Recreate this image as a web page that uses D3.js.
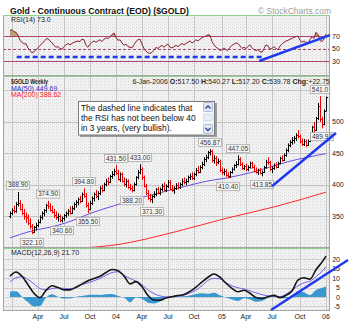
<!DOCTYPE html>
<html>
<head>
<meta charset="utf-8">
<script src="https://cdn.jsdelivr.net/npm/d3@7"></script>
<style>
  html, body { margin: 0; padding: 0; background: #fff; }
  svg { display: block; font-family: "Liberation Sans", Arial, sans-serif; }
</style>
</head>
<body>
<svg id="chart" width="352" height="327"></svg>
<script>
// ---- Weekly $GOLD bars, Dec 27 2002 .. Jan 6 2006 (one entry per Friday) ----
const firstWeek = new Date(2002, 11, 27);
const lastWeek = new Date(2006, 0, 6);

const opens = [
  350,356,360,358,370,372,362,356,350,349,
  339,335,326,333,337,342,349,355,360,368,
  366,361,357,352,349,351,344,347,352,355,
  359,356,364,370,373,377,375,386,383,368,
  362,372,379,385,383,388,396,392,402,407,
  405,414,418,422,419,410,417,407,401,406,
  397,395,392,402,412,421,425,412,398,388,
  380,378,382,385,393,388,394,398,392,399,
  405,394,392,396,400,397,402,407,404,407,
  412,415,411,418,424,421,429,434,441,445,
  452,454,440,443,436,438,424,420,423,416,
  414,421,426,431,434,442,433,427,430,425,
  428,435,428,423,421,424,419,421,428,437,
  436,425,427,431,429,435,443,440,448,456,
  463,468,472,475,480,478,470,465,470,464,
  470,480,492,488,506,526,504,497,517.5
];
const highs = [
  358,363,367,373,388.9,376,370,362,356,353,
  347,338,335,340,345,352,358,362,370,374.9,
  371,367,362,358,355,353,350,354,358,362,
  366,367,372,376,380,383,388,394.8,387,372,
  375,382,388,392,390,398,400,404,410,412,
  416,422,426,431.5,424,420,420,412,410,409,
  402,399,404,414,424,433,428,415,402,392,
  386,384,390,395,397,396,402,404,401,408,
  408,400,398,403,404,404,410,412,410,415,
  418,420,420,427,430,431,437,444,448,454,
  456.87,456,447,446,442,440,428,426,425,420,
  422,428,433,438,447.05,444,436,432,434,431,
  437,437,432,428,426,427,423,430,440,444,
  438,430,434,436,437,445,447,450,458,466,
  471,476,478,482,487,480,474,473,472,472,
  482,494,500,508,530,541,508,520,540.27
];
const lows = [
  347,352,355,356,366,360,352,345,340,336,
  330,322.1,324,328,333,339,345,350,356,362,
  358,355,348,345,342,341,340.6,343,348,351,
  353,354,360,364,368,371,373,380,364,355.5,
  360,368,374,379,376,384,388,390,398,400,
  403,410,414,416,407,405,404,398,396,394,
  391,388.2,390,399,409,417,408,396,384,376,
  373,371.3,379,382,385,384,390,390,389,395,
  392,389,386,392,393,394,398,401,400,404,
  408,408,408,414,418,419,425,430,436,441,
  447,436,434,430,433,420,416,415,413,410.4,
  411,418,423,427,431,430,424,424,422,422,
  426,426,420,418,416,417,413.85,419,426,432,
  422,419,424,426,427,433,437,438,445,452,
  460,464,466,470,474,466,462,462,460,462,
  468,478,484,486,503,500,489.92,495,517.2
];
const closes = [
  356,360,358,370,372,362,356,350,349,339,
  335,326,333,337,342,349,355,360,368,366,
  361,357,352,349,351,344,347,352,355,359,
  356,364,370,373,377,375,386,383,368,362,
  372,379,385,383,388,396,392,402,407,405,
  414,418,422,419,410,417,407,401,406,397,
  395,392,402,412,421,425,412,398,388,380,
  378,382,385,393,388,394,398,392,399,405,
  394,392,396,400,397,402,407,404,407,412,
  415,411,418,424,421,429,434,441,445,452,
  454,440,443,436,438,424,420,423,416,414,
  421,426,431,434,442,433,427,430,425,428,
  435,428,423,421,424,419,421,428,437,436,
  425,427,431,429,435,443,440,448,456,463,
  468,472,475,480,478,470,465,470,464,470,
  480,492,488,506,526,504,497,517.03,539.78
];

// RSI(14), one value per week
const rsi = [
  79,80,77,76,71,63,60,57,58,51,
  47,43,45,48,51,55,58,61,65,66,
  62,59,55,52,53,50,49,53,56,58,
  56,58,60,61,62,61,65,64,55,52,
  57,60,62,60,62,64,61,65,67,66,
  69,72,75,68,63,64,59,55,57,53,
  52,51,56,61,64,65,57,50,46,43,
  42,44,47,52,50,53,55,52,55,57,
  52,51,53,55,53,56,58,56,58,60,
  62,59,61,64,62,65,67,69,70,72,
  71,61,56,52,50,47,48,51,48,47,
  52,55,57,59,58,54,50,52,50,53,
  56,51,48,47,48,45,44,50,56,54,
  49,50,53,50,48,54,57,60,62,63,
  65,66,68,69,70,63,60,62,60,59,
  64,69,66,76,72,63,61,66,73.0
];

// Moving averages, sampled at these week numbers
const ma50Weeks  = [0, 12, 20, 28, 42, 55, 62, 67, 79, 84, 100, 108, 122, 139, 158];
const ma50Values = [316, 328, 333, 340, 357, 370, 377, 381, 391, 395, 407, 411, 421, 437, 449.69];
const ma200Weeks  = [0, 20, 34, 55, 83, 108, 133, 158];
const ma200Values = [288, 294, 299, 306, 326, 347, 366, 388.62];

// MACD(12,26,9) line and signal, sampled every third week plus the last week
const macdWeeks = d3.range(0, 157, 3).concat([158]);
const macdValues = [
  11, 13.3, 11, 6.5, 2, -0.3, 3.5, 6, 5, 3.8, 3.8, 5.2, 7, 8.6, 9.8, 11, 13, 14.6,
  14, 11.2, 7, 8.2, 5.5, 0.8, -1.6, -1.7, -0.5, 0.2, 0.8, 1.4, 3, 5.3, 8, 10.5, 12.2, 10.5,
  7.3, 4.6, 2.8, 3.6, 2, -0.3, -0.8, 0.2, 0.9, -0.3, 0.9, 3.2, 9, 10.2, 9.5, 14.5, 18.5, 21.7
];
const signalValues = [
  8.1, 10.2, 10.8, 9.3, 7, 4.5, 3.8, 4.5, 4.8, 4.6, 4.5, 5, 6.5, 7.5, 8.6, 9.9, 11.5, 13,
  13.4, 11.5, 9.8, 8.4, 6.4, 3.8, 1.8, 0.6, 0.1, 0.2, 0.5, 1, 2.2, 3.7, 6, 8.8, 9.9, 9.6,
  7.6, 5.9, 4.9, 4.3, 3.3, 2.2, 1.3, 0.6, 0.3, 0.2, 1.5, 3.6, 5.9, 7.6, 8.4, 10.8, 13.6, 16.1
];

// Swing highs / lows that get a value tag: [week, side, decimals]
const swings = [
  [4, "high", 2], [11, "low", 2], [19, "high", 2], [26, "low", 2], [37, "high", 2],
  [39, "low", 2], [53, "high", 2], [61, "low", 2], [65, "high", 2], [71, "low", 2],
  [100, "high", 2], [109, "low", 2], [114, "high", 2], [126, "low", 2],
  [155, "high", 1], [156, "low", 2]
];

// Hand-drawn blue study lines: [week, value] end points
const rsiFloorLine   = [[3.35, 36.4], [126.5, 36.4]];
const rsiTrendLine   = [[124.6, 30], [160, 71.5]];
const priceTrendLine = [[131, 398], [163, 482.5]];
const macdTrendLine  = [[130.5, -6.9], [169, 19.7]];

const priceTicks = [350, 400, 450, 500];
const priceGrid = [350, 400, 450, 500, 550];
const rsiTicks = [30, 50, 70];
const macdTicks = [-5, 0, 5, 10, 15, 20];

const noteLines = [
  "The dashed line indicates that",
  "the RSI has not been below 40",
  "in 3 years, (very bullish)."
];

// ---------------------------------------------------------------------------
const weeks = d3.timeFriday.range(firstWeek, d3.timeDay.offset(lastWeek, 1));
const last = weeks.length - 1;
const atWeek = k => new Date(+firstWeek + k * 7 * 864e5);

const L = 3, R = 330;
const P = {
  rsi:   { top: 15,  bottom: 76 },
  price: { top: 76,  bottom: 248 },
  macd:  { top: 248, bottom: 311 }
};

const x  = d3.scaleTime().domain([firstWeek, lastWeek]).range([10, 326]);
const yR = d3.scaleLinear().domain([6, 103.6]).range([P.rsi.bottom, P.rsi.top]);
const yP = d3.scaleLinear().domain([300, 573]).range([P.price.bottom, P.price.top]);
const yM = d3.scaleLinear().domain([-7.4, 26]).range([P.macd.bottom, P.macd.top]);

const svg = d3.select("#chart");
const defs = svg.append("defs");

// light textured panel fill
const pat = defs.append("pattern").attr("id", "tex")
  .attr("width", 4).attr("height", 3).attr("patternUnits", "userSpaceOnUse");
pat.append("rect").attr("width", 4).attr("height", 3).attr("fill", "#f2f2f2");
pat.append("rect").attr("x", 0).attr("y", 0).attr("width", 1).attr("height", 1).attr("fill", "#d6d6d6");
pat.append("rect").attr("x", 2).attr("y", 1).attr("width", 1).attr("height", 1).attr("fill", "#dcdcdc");

Object.entries(P).forEach(([k, p]) => {
  defs.append("clipPath").attr("id", "clip-" + k)
    .append("rect").attr("x", L).attr("y", p.top).attr("width", R - L).attr("height", p.bottom - p.top);
});

// quarter ticks at the first weekly bar of Jan / Apr / Jul / Oct
const quarterTicks = d3.timeMonth.every(3).range(new Date(2003, 0, 1), new Date(2006, 1, 1))
  .map(m => d3.timeFriday.ceil(m))
  .filter(d => d >= firstWeek && d <= lastWeek);
const tickLabel = d => d.getMonth() === 0 ? d3.timeFormat("%y")(d) : d3.timeFormat("%b")(d);

// panel backgrounds + grid
Object.entries(P).forEach(([k, p]) => {
  svg.append("rect").attr("x", L).attr("y", p.top).attr("width", R - L)
    .attr("height", p.bottom - p.top).attr("fill", "url(#tex)");
  svg.append("g").selectAll("line").data(quarterTicks).join("line")
    .attr("x1", d => Math.round(x(d)) + 0.5).attr("x2", d => Math.round(x(d)) + 0.5)
    .attr("y1", p.top).attr("y2", p.bottom)
    .attr("stroke", "#c4c4c4").attr("stroke-width", 1);
});
svg.append("g").selectAll("line").data(priceGrid).join("line")
  .attr("x1", L).attr("x2", R)
  .attr("y1", d => Math.round(yP(d)) + 0.5).attr("y2", d => Math.round(yP(d)) + 0.5)
  .attr("stroke", "#c4c4c4");
svg.append("g").selectAll("line").data(macdTicks).join("line")
  .attr("x1", L).attr("x2", R)
  .attr("y1", d => Math.round(yM(d)) + 0.5).attr("y2", d => Math.round(yM(d)) + 0.5)
  .attr("stroke", "#cfcfcf");

// ---- RSI panel ----
const gR = svg.append("g").attr("clip-path", "url(#clip-rsi)");
gR.append("path").datum(rsi)
  .attr("d", d3.area().x((d, i) => x(weeks[i])).y0(yR(70)).y1(d => yR(Math.max(d, 70))))
  .attr("fill", "#b8a276");
rsiTicks.forEach(v => {
  gR.append("line").attr("x1", L).attr("x2", R)
    .attr("y1", Math.round(yR(v)) + 0.5).attr("y2", Math.round(yR(v)) + 0.5)
    .attr("stroke", "#b0446e").attr("stroke-width", 1)
    .attr("stroke-dasharray", v === 50 ? "3,2" : null);
});
gR.append("path").datum(rsi)
  .attr("d", d3.line().x((d, i) => x(weeks[i])).y(d => yR(d)))
  .attr("fill", "none").attr("stroke", "#8a2233").attr("stroke-width", 1);

// ---- Price panel ----
const gP = svg.append("g").attr("clip-path", "url(#clip-price)");
gP.append("path").datum(ma200Weeks.map((w, i) => [w, ma200Values[i]]))
  .attr("d", d3.line().x(d => x(atWeek(d[0]))).y(d => yP(d[1])).curve(d3.curveMonotoneX))
  .attr("fill", "none").attr("stroke", "#ff2a2a").attr("stroke-width", 1);
gP.append("path").datum(ma50Weeks.map((w, i) => [w, ma50Values[i]]))
  .attr("d", d3.line().x(d => x(atWeek(d[0]))).y(d => yP(d[1])).curve(d3.curveMonotoneX))
  .attr("fill", "none").attr("stroke", "#6a4fe0").attr("stroke-width", 1);

gP.append("g").selectAll("path").data(weeks).join("path")
  .attr("d", (d, i) => {
    const cx = Math.round(x(d)) + 0.5;
    const yo = Math.round(yP(opens[i])) + 0.5;
    const yc = Math.round(yP(closes[i])) + 0.5;
    return `M${cx},${yP(highs[i])}V${yP(lows[i])}M${cx - 1.5},${yo}H${cx}M${cx},${yc}H${cx + 1.5}`;
  })
  .attr("fill", "none")
  .attr("stroke", (d, i) => (i > 0 ? closes[i] >= closes[i - 1] : closes[i] >= opens[i]) ? "#000" : "#f00000")
  .attr("stroke-width", 1);

// swing value tags
const gTags = svg.append("g").attr("font-size", 6.6).attr("fill", "#333");
swings.forEach(([w, side, dec]) => {
  const val = side === "high" ? highs[w] : lows[w];
  const cx = x(weeks[w]);
  const base = side === "high" ? yP(val) - 4.5 : yP(val) + 10.5;
  const g = gTags.append("g");
  const r = g.append("rect").attr("fill", "#f7f7f7").attr("stroke", "#a8a8a8").attr("stroke-width", 0.8);
  const t = g.append("text").attr("x", cx).attr("y", base).attr("text-anchor", "middle")
    .attr("fill", "#333").text(val.toFixed(dec));
  const wTxt = t.node().getComputedTextLength();
  r.attr("x", cx - wTxt / 2 - 1.5).attr("y", base - 6.2).attr("width", wTxt + 3).attr("height", 8);
});

// ---- MACD panel ----
const gM = svg.append("g").attr("clip-path", "url(#clip-macd)");
const macdPts = macdWeeks.map((w, i) => ({ w, m: macdValues[i], s: signalValues[i] }));
gM.append("path").datum(macdPts)
  .attr("d", d3.area().x(d => x(atWeek(d.w))).y0(yM(0)).y1(d => yM(d.m - d.s)).curve(d3.curveMonotoneX))
  .attr("fill", "#3a98d0");
gM.append("path").datum(macdPts)
  .attr("d", d3.line().x(d => x(atWeek(d.w))).y(d => yM(d.s)).curve(d3.curveMonotoneX))
  .attr("fill", "none").attr("stroke", "#7b5fe6").attr("stroke-width", 1);
gM.append("path").datum(macdPts)
  .attr("d", d3.line().x(d => x(atWeek(d.w))).y(d => yM(d.m)).curve(d3.curveMonotoneX))
  .attr("fill", "none").attr("stroke", "#151515").attr("stroke-width", 1.6);

// panel frames
Object.values(P).forEach(p => {
  svg.append("rect").attr("x", L + 0.5).attr("y", p.top + 0.5)
    .attr("width", R - L - 1).attr("height", p.bottom - p.top - 1)
    .attr("fill", "none").attr("stroke", "#a6a6a6");
  svg.append("line").attr("x1", L).attr("x2", R)
    .attr("y1", p.top + 0.5).attr("y2", p.top + 0.5).attr("stroke", "#8fcf8f");
});

// ---- right-hand axes ----
const axisFont = g => g.attr("font-size", 7).attr("fill", "#222");
const gAx = svg.append("g").call(axisFont);
priceTicks.forEach(v => gAx.append("text").attr("x", 332).attr("y", yP(v) + 2.5).text(v));
rsiTicks.forEach(v => gAx.append("text").attr("x", 332).attr("y", yR(v) + 2.5).text(v));
macdTicks.forEach(v => gAx.append("text").attr("x", 340).attr("y", yM(v) + 2.5)
  .attr("text-anchor", "end").text(v));

// ---- bottom axis ----
const gX = svg.append("g").call(axisFont);
quarterTicks.filter(d => x(d) > 20).forEach(d =>
  gX.append("text").attr("x", x(d)).attr("y", 318.5).attr("text-anchor", "middle").text(tickLabel(d)));

// ---- blue study lines ----
const gBlue = svg.append("g").attr("fill", "none").attr("stroke", "#1f38f2")
  .attr("stroke-width", 2.4).attr("stroke-linecap", "butt");
const seg = (pts, ys) => d3.line().x(d => x(atWeek(d[0]))).y(d => ys(d[1]))(pts);
gBlue.append("path").attr("d", seg(rsiFloorLine, yR)).attr("stroke-dasharray", "5,3");
gBlue.append("path").attr("d", seg(rsiTrendLine, yR));
gBlue.append("path").attr("d", seg(priceTrendLine, yP));
gBlue.append("path").attr("d", seg(macdTrendLine, yM));

// ---- header texts ----
svg.append("text").attr("x", 10).attr("y", 13.5).attr("font-size", 9).attr("font-weight", "bold")
  .attr("fill", "#111").attr("textLength", 179).attr("lengthAdjust", "spacingAndGlyphs")
  .text("Gold - Continuous Contract (EOD) ($GOLD)");
svg.append("text").attr("x", 258).attr("y", 14).attr("font-size", 8.5).attr("fill", "#9a9a9a")
  .attr("textLength", 73).attr("lengthAdjust", "spacingAndGlyphs").text("\u00a9 StockCharts.com");
svg.append("text").attr("x", 11).attr("y", 21.5).attr("font-size", 7).attr("fill", "#222")
  .text(`RSI(14) ${rsi[last].toFixed(1)}`);
svg.append("text").attr("x", 11).attr("y", 83.5).attr("font-size", 7).attr("font-weight", "bold")
  .attr("fill", "#222").attr("textLength", 37).attr("lengthAdjust", "spacingAndGlyphs").text("$GOLD Weekly");
svg.append("text").attr("x", 11).attr("y", 90.5).attr("font-size", 7).attr("fill", "#3030d0")
  .text(`MA(50) ${ma50Values[ma50Values.length - 1].toFixed(2)}`);
svg.append("text").attr("x", 11).attr("y", 97).attr("font-size", 7).attr("fill", "#ff2020")
  .text(`MA(200) ${ma200Values[ma200Values.length - 1].toFixed(2)}`);

const fmt = d3.format(".2f");
const chg = closes[last] - closes[last - 1];
const hdr = svg.append("text").attr("x", 330).attr("y", 83.5).attr("text-anchor", "end")
  .attr("font-size", 7).attr("fill", "#222");
[[d3.timeFormat("%-d-%b-%Y")(weeks[last]) + " ", false],
 ["O:", true], [fmt(opens[last]) + " ", false],
 ["H:", true], [fmt(highs[last]) + " ", false],
 ["L:", true], [fmt(lows[last]) + " ", false],
 ["C:", true], [fmt(closes[last]) + " ", false],
 ["Chg:", true], [(chg >= 0 ? "+" : "") + fmt(chg), false]
].forEach(([t, b]) => hdr.append("tspan").attr("font-weight", b ? "bold" : null).text(t));

svg.append("text").attr("x", 11).attr("y", 254.5).attr("font-size", 7).attr("fill", "#222")
  .text(`MACD(12,26,9) ${fmt(macdValues[macdValues.length - 1])}`);

// ---- note box ----
const note = svg.append("g");
note.append("rect").attr("x", 80).attr("y", 103).attr("width", 137).attr("height", 34).attr("fill", "#9a9a9a");
note.append("rect").attr("x", 78.5).attr("y", 101.5).attr("width", 136).attr("height", 33.5)
  .attr("fill", "#fff").attr("stroke", "#7a7a7a");
noteLines.forEach((t, i) => note.append("text").attr("x", 81).attr("y", 111 + i * 10)
  .attr("font-size", 8.4).attr("fill", "#111").text(t));
note.append("rect").attr("x", 203).attr("y", 102).attr("width", 11).attr("height", 32.5).attr("fill", "#f3f5f9");
[[102.5, "M205.5,108.5 L208,106 L210.5,108.5"], [124.5, "M205.5,128 L208,130.5 L210.5,128"]].forEach(([yy, d]) => {
  note.append("rect").attr("x", 203.5).attr("y", yy).attr("width", 9).attr("height", 9).attr("rx", 1)
    .attr("fill", "#dfe7f4").attr("stroke", "#9eb0d0").attr("stroke-width", 0.8);
  note.append("path").attr("d", d).attr("fill", "none").attr("stroke", "#2a3f8f").attr("stroke-width", 1.3);
});
note.append("rect").attr("x", 203.5).attr("y", 114.5).attr("width", 9).attr("height", 6)
  .attr("fill", "#e8eef8").attr("stroke", "#c3cfe3").attr("stroke-width", 0.6);
</script>
</body>
</html>
